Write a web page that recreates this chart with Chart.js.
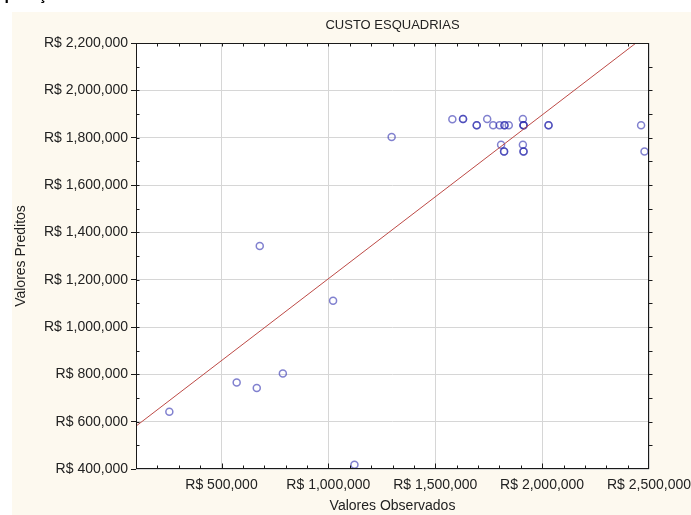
<!DOCTYPE html>
<html>
<head>
<meta charset="utf-8">
<script src="https://cdn.jsdelivr.net/npm/chart.js@4.4.1/dist/chart.umd.min.js"></script>
<style>
  html, body { margin: 0; padding: 0; background: #fff; overflow: hidden; }
  #wrap { position: relative; width: 691px; height: 515px; overflow: hidden; }
  #heading { position: absolute; left: -31px; top: -13px; font: bold 16px/16px "Liberation Sans", Arial, sans-serif; color: #000; white-space: nowrap; }
  canvas { position: absolute; left: 0; top: 0; }
</style>
</head>
<body>
<div id="wrap">
  <canvas id="scatter" width="700" height="515"></canvas>
  <div id="heading">Comparação</div>
</div>
<script>
var observed = [256000, 571000, 665000, 787000, 1122000, 679000, 1022000, 1296000,
  1580000, 1630000, 1630000, 1694000, 1694000, 1743000, 1771000, 1801000,
  1824000, 1824000, 1844000, 1910000, 1913000, 1913000, 1913000, 2030000,
  2030000, 1808000, 1822000, 1822000, 1910000, 1913000, 1913000, 2463000, 2479000];
var predicted = [642000, 765000, 742000, 804000, 418000, 1342000, 1111000, 1803000,
  1878000, 1879000, 1879000, 1852000, 1852000, 1879000, 1852000, 1852000,
  1852000, 1852000, 1852000, 1879000, 1852000, 1852000, 1852000, 1852000,
  1852000, 1770000, 1742000, 1742000, 1770000, 1742000, 1742000, 1852000, 1742000];
var xTicks = [500000, 1000000, 1500000, 2000000, 2500000];
var yTicks = [400000, 600000, 800000, 1000000, 1200000, 1400000, 1600000, 1800000, 2000000, 2200000];
var xRange = [100000, 2500000];
var fitIntercept = 512000;
var fitSlope = 0.692;

var font = 'Liberation Sans, Arial, sans-serif';

function money(v) {
  return 'R$ ' + Number(v).toLocaleString('en-US');
}

var points = observed.map(function (x, i) { return { x: x, y: predicted[i] }; });
var fitLine = xRange.map(function (x) { return { x: x, y: fitIntercept + fitSlope * x }; });

// cream page, white plot area, frame and the small statistica style ticks
var frame = {
  id: 'frame',
  beforeDraw: function (chart) {
    var c = chart.ctx, a = chart.chartArea;
    c.save();
    c.fillStyle = '#fdf9ef';
    c.fillRect(12, 12, chart.width - 12, chart.height - 12);
    c.fillStyle = '#ffffff';
    c.fillRect(a.left, a.top, a.right - a.left, a.bottom - a.top);
    c.restore();
  },
  afterDraw: function (chart) {
    var c = chart.ctx, a = chart.chartArea;
    var xs = chart.scales.x, ys = chart.scales.y;
    var l = Math.round(a.left) + 0.5, r = Math.round(a.right) - 0.5;
    var t = Math.round(a.top) + 0.5, b = Math.round(a.bottom) - 0.5;
    c.save();
    c.strokeStyle = '#1a1a1a';
    c.lineWidth = 1;
    c.beginPath();
    for (var v = xRange[0] + 100000; v < xRange[1]; v += 100000) {
      var px = Math.round(xs.getPixelForValue(v)) + 0.5;
      var len = v % 500000 === 0 ? 5 : 3;
      c.moveTo(px, b); c.lineTo(px, b - len);
      c.moveTo(px, t); c.lineTo(px, t + 3);
    }
    for (var w = yTicks[0] + 100000; w < yTicks[yTicks.length - 1]; w += 100000) {
      var py = Math.round(ys.getPixelForValue(w)) + 0.5;
      c.moveTo(l, py); c.lineTo(l + 3, py);
      c.moveTo(r, py); c.lineTo(r + 4, py);
    }
    c.stroke();
    c.strokeRect(l, t, r - l, b - t);
    c.restore();
  }
};

new Chart(document.getElementById('scatter'), {
  type: 'scatter',
  data: {
    datasets: [{
      type: 'line',
      data: fitLine,
      borderColor: '#bd4a46',
      borderWidth: 1,
      pointRadius: 0,
      fill: false
    }, {
      data: points,
      pointStyle: 'circle',
      pointRadius: 3.5,
      borderWidth: 1.5,
      borderColor: 'rgba(45, 45, 175, 0.6)',
      backgroundColor: 'rgba(0, 0, 0, 0)'
    }]
  },
  plugins: [frame],
  options: {
    responsive: false,
    animation: false,
    layout: { padding: { left: 12, top: 12, right: 51, bottom: 0 } },
    plugins: {
      legend: { display: false },
      tooltip: { enabled: false },
      title: {
        display: true,
        text: 'CUSTO ESQUADRIAS',
        fullSize: false,
        color: '#222',
        font: { family: font, size: 13, weight: 'normal' },
        padding: { top: 6, bottom: 9.4 }
      }
    },
    scales: {
      x: {
        type: 'linear',
        min: xRange[0],
        max: xRange[1],
        afterBuildTicks: function (scale) {
          scale.ticks = xTicks.map(function (v) { return { value: v }; });
        },
        afterFit: function (scale) { scale.height = 46; },
        grid: { color: '#d6d6d6', drawTicks: false },
        border: { display: false },
        ticks: {
          color: '#222',
          padding: 8,
          maxRotation: 0,
          font: { family: font, size: 14 },
          callback: money
        },
        title: {
          display: true,
          text: 'Valores Observados',
          color: '#222',
          font: { family: font, size: 14 },
          padding: { top: 0, bottom: 0 }
        }
      },
      y: {
        type: 'linear',
        min: yTicks[0],
        max: yTicks[yTicks.length - 1],
        afterBuildTicks: function (scale) {
          scale.ticks = yTicks.map(function (v) { return { value: v }; });
        },
        afterFit: function (scale) { scale.width = 124; },
        grid: { color: '#d6d6d6', tickColor: '#1a1a1a', tickLength: 5 },
        border: { display: false },
        ticks: {
          color: '#222',
          padding: 3,
          font: { family: font, size: 14 },
          callback: money
        },
        title: {
          display: true,
          text: 'Valores Preditos',
          color: '#222',
          font: { family: font, size: 14 },
          padding: { top: 1, bottom: 0 }
        }
      }
    }
  }
});
</script>
</body>
</html>
